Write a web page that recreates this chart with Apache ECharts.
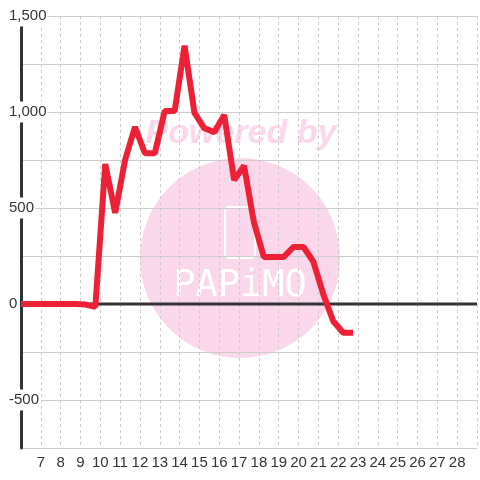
<!DOCTYPE html>
<html>
<head>
<meta charset="utf-8">
<script src="https://cdn.jsdelivr.net/npm/echarts@6/dist/echarts.min.js"></script>
<style>
html,body{margin:0;padding:0;background:#fff;}
#c{width:480px;height:480px;}
</style>
</head>
<body>
<div id="c"></div>
<script>
// Data
var hours = [6, 8.75, 9.25, 9.75, 10.25, 10.75, 11.25, 11.75, 12.25, 12.75, 13.25, 13.75, 14.25, 14.75, 15.25, 15.75, 16.25, 16.75, 17.25, 17.75, 18.25, 18.75, 19.25, 19.75, 20.25, 20.75, 21.25, 21.75, 22.25, 22.75];
var values = [0, 0, -3, -15, 729, 474, 750, 922, 785, 785, 1005, 1005, 1345, 995, 915, 895, 985, 645, 720, 425, 245, 245, 245, 297, 297, 220, 50, -90, -150, -150];
var zeroX = [6, 29];
var zeroY = [0, 0];
var xTickMin = 7, xTickMax = 28;
var yLabelStep = 500;

var lineData = hours.map(function (h, i) { return [h, values[i]]; });
var zeroData = zeroX.map(function (x, i) { return [x, zeroY[i]]; });

var chart = echarts.init(document.getElementById('c'), null, {renderer: 'canvas'});
var font = "'Liberation Sans', Arial, sans-serif";
chart.setOption({
  backgroundColor: '#ffffff',
  animation: false,
  textStyle: {fontFamily: font},
  grid: {left: 21, right: 0, top: 16, bottom: 32},
  graphic: [
    {type: 'circle', z: -10, shape: {cx: 240, cy: 258, r: 100}, style: {fill: '#fbd7ec'}},
    {type: 'text', z: -10, x: 241, y: 134, style: {text: 'Powered by', fill: '#fbd7ec', font: "italic bold 34px 'Liberation Sans', Arial, sans-serif", textAlign: 'center', textVerticalAlign: 'middle'}},
    {type: 'rect', z: -9, shape: {x: 225, y: 207, width: 30, height: 51, r: 4}, style: {fill: 'none', stroke: '#ffffff', lineWidth: 2}},
    {type: 'text', z: -9, x: 240, y: 286, style: {text: 'PAPiMO', fill: '#ffffff', font: "37px 'DejaVu Sans Mono', monospace", textAlign: 'center', textVerticalAlign: 'middle'}}
  ],
  xAxis: {
    type: 'value',
    min: 6, max: 29, interval: 1,
    axisLine: {show: false},
    axisTick: {show: false},
    splitLine: {show: true, lineStyle: {color: '#cccccc', type: [3, 3], width: 1}},
    axisLabel: {
      color: '#333333', fontSize: 15, margin: 7, fontFamily: font,
      formatter: function (v) { return (v >= xTickMin && v <= xTickMax) ? String(v) : ''; }
    }
  },
  yAxis: {
    type: 'value',
    min: -750, max: 1500, interval: 250,
    axisLine: {show: true, lineStyle: {color: '#333333', width: 3}},
    axisTick: {show: false},
    splitLine: {show: true, lineStyle: {color: '#cccccc', width: 1}},
    axisLabel: {
      color: '#333333', fontSize: 15, align: 'left', margin: 13, fontFamily: font,
      backgroundColor: '#ffffff', padding: [3, 2, 3, 1],
      formatter: function (v) { return (v % yLabelStep === 0) ? v.toLocaleString('en-US') : ''; }
    }
  },
  series: [
    {
      type: 'line', name: 'zero', data: zeroData, z: 1, silent: true,
      symbol: 'none', lineStyle: {color: '#333333', width: 3}
    },
    {
      type: 'line', name: 'value', data: lineData, z: 3,
      symbol: 'none', lineStyle: {color: '#ee2036', width: 6, join: 'bevel'}
    }
  ]
});
</script>
</body>
</html>
